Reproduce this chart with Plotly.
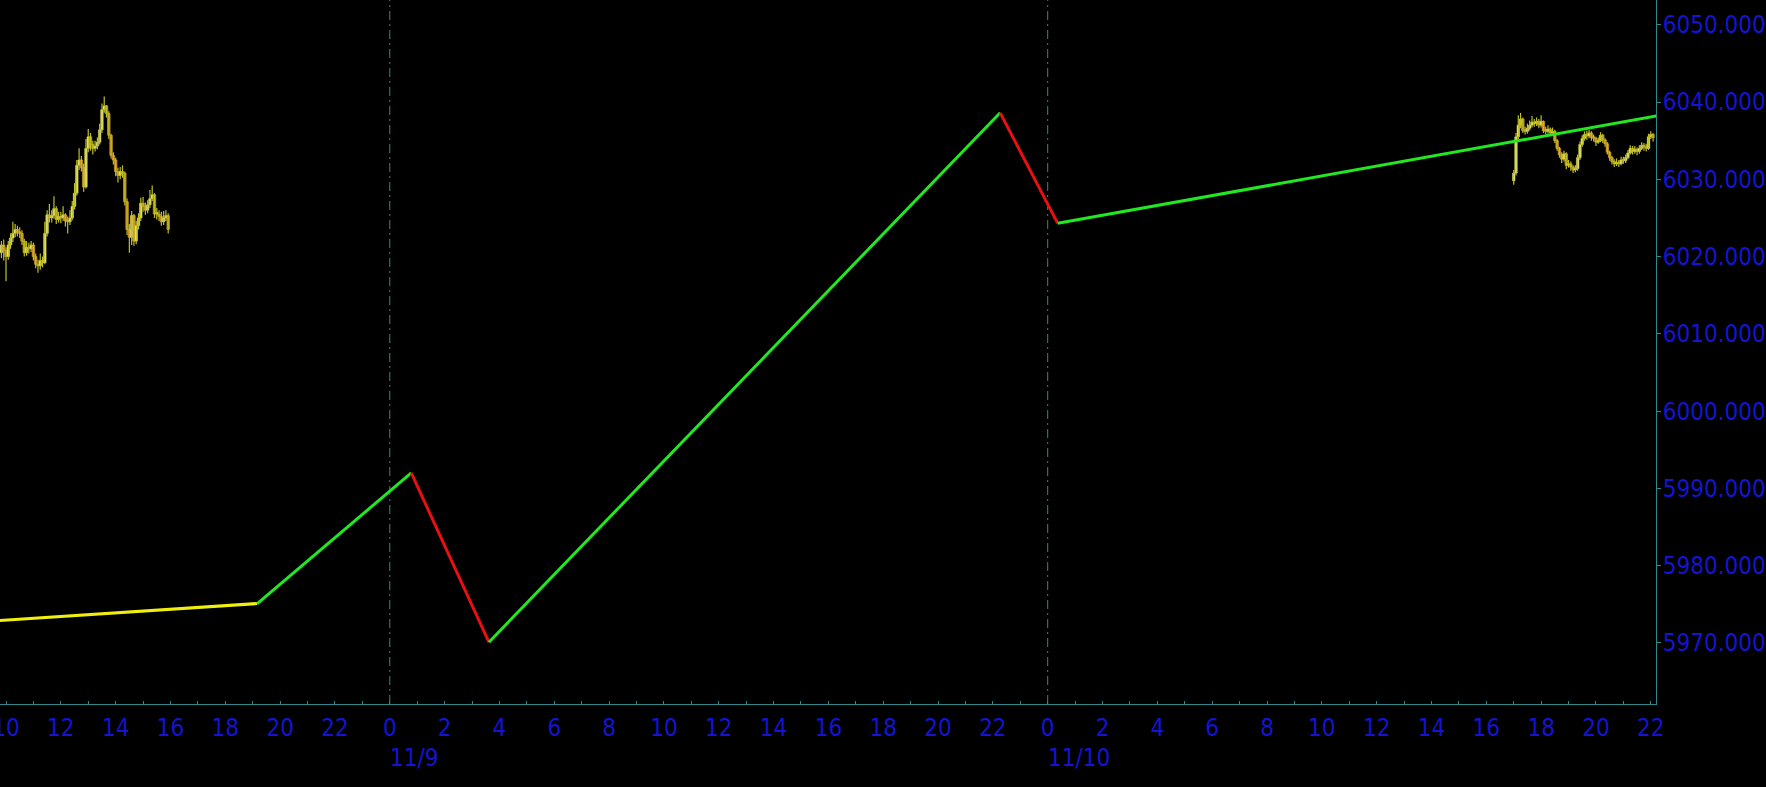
import pandas as pd
import plotly.graph_objects as go

# ---------------- data ----------------
# Session 1: 5-minute bars on 11/8 starting 09:45
s1_start = "2024-11-08 09:45"
s1_open = [6021.0, 6020.5, 6021.5, 6020.8, 6020.0, 6021.5, 6022.4, 6023.0, 6023.5, 6023.2,
           6023.0, 6022.0, 6020.5, 6021.2, 6021.0, 6021.5, 6020.0, 6019.0, 6018.8, 6019.5,
           6019.2, 6023.0, 6025.4, 6025.0, 6025.3, 6026.2, 6024.8, 6025.2, 6025.0, 6025.4,
           6024.6, 6024.5, 6025.0, 6026.5, 6028.2, 6031.8, 6032.5, 6031.5, 6029.0, 6034.0,
           6035.5, 6034.5, 6034.0, 6034.3, 6034.8, 6036.4, 6039.0, 6039.5, 6038.5, 6035.7,
           6033.1, 6032.5, 6031.0, 6030.5, 6031.0, 6030.8, 6027.1, 6023.5, 6022.5, 6025.3,
           6022.0, 6024.0, 6025.0, 6026.9, 6026.5, 6026.0, 6026.7, 6027.5, 6028.0, 6025.5,
           6025.5, 6025.2, 6024.5, 6025.0, 6025.3]
s1_high = [6022.0, 6022.0, 6022.2, 6021.2, 6022.0, 6023.0, 6024.5, 6024.2, 6024.0, 6023.8,
           6023.4, 6022.3, 6022.0, 6021.8, 6022.0, 6021.8, 6020.4, 6019.6, 6020.4, 6020.0,
           6024.5, 6026.0, 6026.8, 6026.0, 6027.8, 6026.5, 6025.8, 6025.8, 6026.5, 6025.6,
           6025.2, 6026.0, 6027.2, 6029.5, 6032.5, 6034.0, 6033.0, 6032.0, 6035.2, 6036.5,
           6036.0, 6035.0, 6035.0, 6035.4, 6037.2, 6039.8, 6040.7, 6039.6, 6038.8, 6035.9,
           6033.5, 6032.8, 6031.5, 6031.6, 6031.8, 6031.0, 6027.5, 6024.2, 6025.9, 6025.5,
           6024.6, 6025.6, 6027.6, 6027.7, 6027.0, 6027.3, 6028.6, 6029.2, 6028.2, 6026.3,
           6026.0, 6025.8, 6025.9, 6026.0, 6025.6]
s1_low = [6020.0, 6019.8, 6019.5, 6016.8, 6019.6, 6021.0, 6021.9, 6022.5, 6022.6, 6022.4,
          6021.5, 6020.0, 6020.1, 6020.4, 6020.6, 6019.5, 6018.5, 6017.9, 6018.3, 6018.6,
          6019.0, 6022.6, 6024.4, 6024.4, 6024.9, 6024.2, 6024.4, 6024.3, 6024.6, 6023.9,
          6023.0, 6024.1, 6024.7, 6026.1, 6027.9, 6031.2, 6031.0, 6028.4, 6028.8, 6033.5,
          6033.7, 6033.2, 6033.6, 6033.9, 6034.5, 6036.0, 6038.6, 6038.0, 6035.2, 6032.7,
          6031.9, 6030.4, 6029.6, 6030.0, 6030.2, 6026.6, 6022.8, 6020.5, 6021.5, 6021.4,
          6021.6, 6023.5, 6024.6, 6025.8, 6025.4, 6025.6, 6026.3, 6027.2, 6025.0, 6024.8,
          6024.6, 6024.0, 6024.1, 6024.6, 6023.0]
s1_close = [6020.5, 6021.5, 6020.8, 6020.0, 6021.5, 6022.4, 6023.0, 6023.5, 6023.2, 6023.0,
            6022.0, 6020.5, 6021.2, 6021.0, 6021.5, 6020.0, 6019.0, 6018.8, 6019.5, 6019.2,
            6023.0, 6025.4, 6025.0, 6025.3, 6026.2, 6024.8, 6025.2, 6025.0, 6025.4, 6024.6,
            6024.5, 6025.0, 6026.5, 6028.2, 6031.8, 6032.5, 6031.5, 6029.0, 6034.0, 6035.5,
            6034.5, 6034.0, 6034.3, 6034.8, 6036.4, 6039.0, 6039.5, 6038.5, 6035.7, 6033.1,
            6032.5, 6031.0, 6030.5, 6031.0, 6030.8, 6027.1, 6023.5, 6022.5, 6025.3, 6022.0,
            6024.0, 6025.0, 6026.9, 6026.5, 6026.0, 6026.7, 6027.5, 6028.0, 6025.5, 6025.5,
            6025.2, 6024.5, 6025.0, 6025.3, 6023.5]

# Session 2: 5-minute bars on 11/10 starting 17:00
s2_start = "2024-11-10 17:00"
s2_open = [6029.8, 6030.8, 6035.5, 6037.0, 6037.8, 6036.3, 6036.2, 6036.6, 6037.0, 6037.4,
           6037.2, 6037.5, 6037.0, 6037.5, 6036.3, 6036.2, 6036.5, 6036.0, 6036.2, 6035.0,
           6034.0, 6033.2, 6032.6, 6033.3, 6031.8, 6032.0, 6031.6, 6031.2, 6031.4, 6032.8,
           6034.5, 6035.3, 6035.8, 6035.6, 6036.0, 6035.4, 6035.3, 6034.8, 6035.0, 6035.7,
           6035.1, 6034.6, 6033.5, 6032.8, 6032.3, 6032.0, 6032.2, 6032.0, 6032.5, 6032.4,
           6032.8, 6033.4, 6034.0, 6033.6, 6033.9, 6033.6, 6034.0, 6034.4, 6034.2, 6034.0,
           6035.5, 6035.8]
s2_high = [6031.2, 6036.0, 6038.3, 6038.6, 6038.0, 6036.8, 6037.2, 6037.6, 6038.2, 6037.8,
           6038.0, 6037.8, 6038.3, 6037.6, 6036.8, 6037.0, 6036.7, 6036.7, 6036.4, 6035.2,
           6034.2, 6033.5, 6033.7, 6033.5, 6032.5, 6032.3, 6031.8, 6031.8, 6033.2, 6034.9,
           6035.7, 6036.2, 6036.3, 6036.4, 6036.2, 6035.8, 6035.5, 6035.4, 6036.1, 6035.9,
           6035.3, 6034.8, 6033.7, 6033.0, 6032.6, 6032.7, 6032.5, 6032.9, 6032.9, 6033.2,
           6033.8, 6034.4, 6034.3, 6034.3, 6034.1, 6034.4, 6034.8, 6034.7, 6034.6, 6035.9,
           6036.2, 6036.0]
s2_low = [6029.3, 6030.5, 6035.2, 6036.6, 6036.0, 6035.8, 6035.9, 6036.3, 6036.7, 6036.8,
          6036.9, 6036.6, 6036.7, 6036.0, 6035.8, 6035.9, 6035.6, 6035.7, 6034.7, 6033.7,
          6032.8, 6032.1, 6032.3, 6031.3, 6031.5, 6031.1, 6030.8, 6030.9, 6031.1, 6032.5,
          6034.2, 6035.0, 6035.1, 6035.3, 6035.0, 6034.9, 6034.3, 6034.6, 6034.8, 6034.7,
          6034.2, 6033.2, 6032.4, 6031.9, 6031.6, 6031.7, 6031.6, 6031.8, 6032.0, 6032.1,
          6032.6, 6033.2, 6033.2, 6033.3, 6033.1, 6033.3, 6033.8, 6033.7, 6033.6, 6033.8,
          6035.2, 6034.9]
s2_close = [6030.8, 6035.5, 6037.0, 6037.8, 6036.3, 6036.2, 6036.6, 6037.0, 6037.4, 6037.2,
            6037.5, 6037.0, 6037.5, 6036.3, 6036.2, 6036.5, 6036.0, 6036.2, 6035.0, 6034.0,
            6033.2, 6032.6, 6033.3, 6031.8, 6032.0, 6031.6, 6031.2, 6031.4, 6032.8, 6034.5,
            6035.3, 6035.8, 6035.6, 6036.0, 6035.4, 6035.3, 6034.8, 6035.0, 6035.7, 6035.1,
            6034.6, 6033.5, 6032.8, 6032.3, 6032.0, 6032.2, 6032.0, 6032.5, 6032.4, 6032.8,
            6033.4, 6034.0, 6033.6, 6033.9, 6033.6, 6034.0, 6034.4, 6034.2, 6034.0, 6035.5,
            6035.8, 6035.4]

# Zigzag indicator vertices and segment colours
zz_time = ["2024-11-08 08:00", "2024-11-08 19:10", "2024-11-09 00:47", "2024-11-09 03:37",
           "2024-11-09 22:16", "2024-11-10 00:22", "2024-11-10 22:12"]
zz_price = [5972.5, 5975.1, 5992.0, 5970.1, 6038.6, 6024.3, 6038.2]
zz_color = ["#F0F00C", "#22E822", "#E81010", "#22E822", "#E81010", "#22E822"]

# Day separators and date labels
day_starts = ["2024-11-09 00:00", "2024-11-10 00:00"]
day_labels = ["11/9", "11/10"]

x_range = ["2024-11-08 09:46:52", "2024-11-10 22:11:25"]
y_range = [5962.1, 6053.2]

# ---------------- figure ----------------
AXIS = "#2E8A8A"
TXT = "#1414D2"
FONT = "DejaVu Sans Condensed, DejaVu Sans, sans-serif"
BAR_MS = 5 * 60 * 1000
WICK = "#BEBE26"
UP_FILL = "#FFFFD0"
DN_FILL = "#E2601C"

fig = go.Figure()
for start, o, h, l, c in [(s1_start, s1_open, s1_high, s1_low, s1_close),
                          (s2_start, s2_open, s2_high, s2_low, s2_close)]:
    t = pd.date_range(start, periods=len(c), freq="5min")
    wx, wy = [], []
    for ti, hi, lo in zip(t, h, l):
        wx += [ti, ti, None]
        wy += [lo, hi, None]
    fig.add_trace(go.Scatter(x=wx, y=wy, mode="lines",
                             line=dict(color=WICK, width=1.2),
                             showlegend=False, hoverinfo="skip"))
    base = [min(a, b) for a, b in zip(o, c)]
    height = [max(abs(b - a), 0.2) for a, b in zip(o, c)]
    cols = [UP_FILL if b >= a else DN_FILL for a, b in zip(o, c)]
    fig.add_trace(go.Bar(x=t, y=height, base=base, width=BAR_MS * 1.1,
                         marker=dict(color=cols, line=dict(color="#C8C82C", width=0.6)),
                         showlegend=False, hoverinfo="skip"))

for i, col in enumerate(zz_color):
    fig.add_trace(go.Scatter(
        x=[zz_time[i], zz_time[i + 1]], y=[zz_price[i], zz_price[i + 1]],
        mode="lines", line=dict(color=col, width=3),
        showlegend=False, hoverinfo="skip"))

for d in day_starts:
    fig.add_vline(x=d, line=dict(color="#2E8E7C", width=1, dash="9px,4px,2px,4px"),
                  layer="below")

for d, lab in zip(day_starts, day_labels):
    fig.add_annotation(x=d, xref="x", y=0, yref="paper", text=lab, showarrow=False,
                       xanchor="left", yanchor="middle", yshift=-54, xshift=-2,
                       font=dict(family=FONT, size=24, color=TXT))

fig.update_layout(
    width=1766, height=787, autosize=False,
    paper_bgcolor="black", plot_bgcolor="black",
    margin=dict(l=0, r=110, t=0, b=83),
    showlegend=False, barmode="overlay",
    font=dict(family=FONT, size=24, color=TXT),
)
fig.update_xaxes(
    type="date", range=x_range, automargin=False,
    tick0="2024-11-08 00:00", dtick=2 * 3600 * 1000, tickformat="%-H",
    ticks="inside", ticklen=3, tickcolor=AXIS, tickwidth=1,
    minor=dict(dtick=3600 * 1000, ticks="inside", ticklen=3, tickcolor=AXIS, showgrid=False),
    showline=True, linecolor=AXIS, linewidth=1, mirror=False,
    showgrid=False, zeroline=False, ticklabeloverflow="allow",
    tickfont=dict(family=FONT, size=24, color=TXT), ticklabelstandoff=2,
)
fig.update_yaxes(
    side="right", range=y_range, dtick=10, tick0=5970, tickformat=".3f", automargin=False,
    ticks="outside", ticklen=4, tickcolor=AXIS, tickwidth=1,
    showline=True, linecolor=AXIS, linewidth=1,
    showgrid=False, zeroline=False, ticklabeloverflow="allow",
    tickfont=dict(family=FONT, size=24, color=TXT), ticklabelstandoff=-3,
)

fig.write_html("out.html",
               config={"displayModeBar": False},
               post_script="document.body.style.margin='0';"
                           "document.body.style.overflow='hidden';"
                           "document.body.style.background='black';")
